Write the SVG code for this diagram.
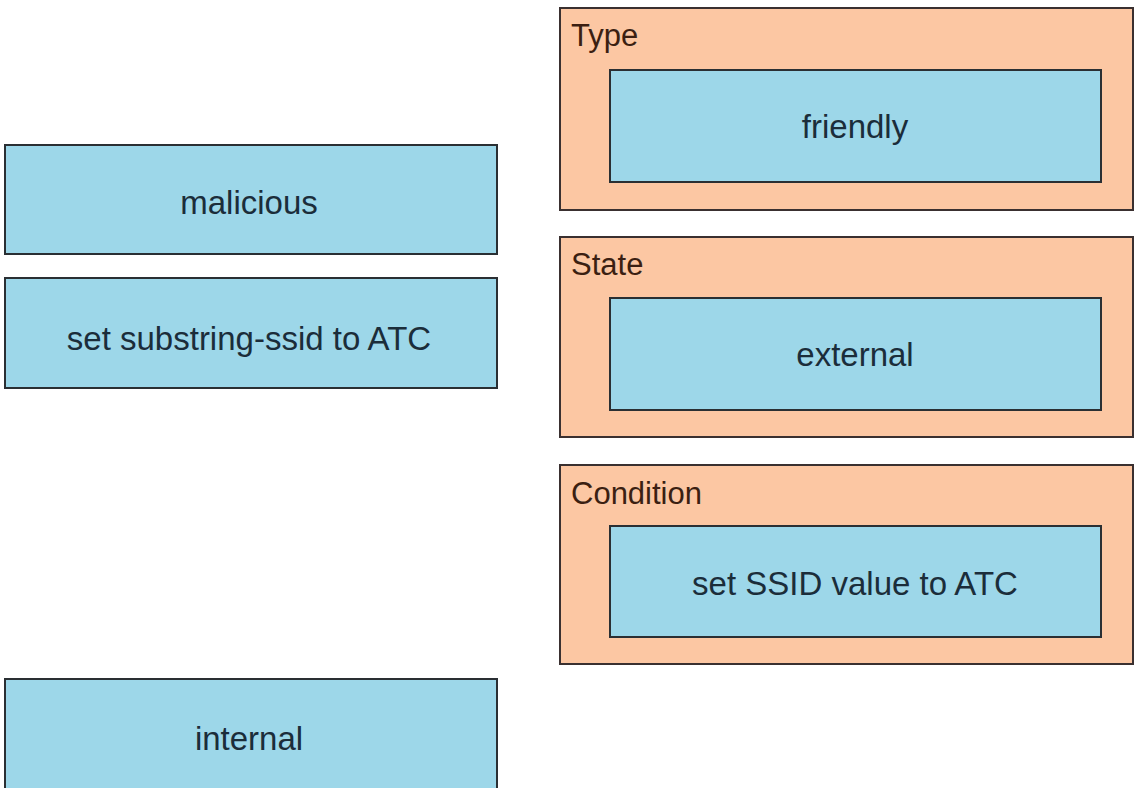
<svg xmlns="http://www.w3.org/2000/svg" width="1136" height="788" viewBox="0 0 1136 788">
<style>
.box{fill:#9dd7e9;stroke:#2a2f33;stroke-width:2}
.cont{fill:#fcc7a3;stroke:#3a3030;stroke-width:2}
.t{font-family:"Liberation Sans",Arial,sans-serif;font-size:33px;fill:#1b2d3a;text-anchor:middle}
.lbl{font-family:"Liberation Sans",Arial,sans-serif;font-size:31px;fill:#3b1f12}
</style>
<rect width="1136" height="788" fill="#ffffff"/>
<g id="malicious"><rect class="box" x="5" y="145" width="492" height="109"/><text class="t" x="249" y="214">malicious</text></g>
<g id="substring"><rect class="box" x="5" y="278" width="492" height="110"/><text class="t" x="249" y="350">set substring-ssid to ATC</text></g>
<g id="internal"><rect class="box" x="5" y="679" width="492" height="115"/><text class="t" x="249" y="750">internal</text></g>
<g id="type"><rect class="cont" x="560" y="8" width="573" height="202"/><text class="lbl" x="571" y="46">Type</text>
<rect class="box" x="610" y="70" width="491" height="112"/><text class="t" x="855" y="138">friendly</text></g>
<g id="state"><rect class="cont" x="560" y="237" width="573" height="200"/><text class="lbl" x="571" y="275">State</text>
<rect class="box" x="610" y="298" width="491" height="112"/><text class="t" x="855" y="366">external</text></g>
<g id="condition"><rect class="cont" x="560" y="465" width="573" height="199"/><text class="lbl" x="571" y="504">Condition</text>
<rect class="box" x="610" y="526" width="491" height="111"/><text class="t" x="855" y="595">set SSID value to ATC</text></g>
<g id="connectors"></g>
</svg>
